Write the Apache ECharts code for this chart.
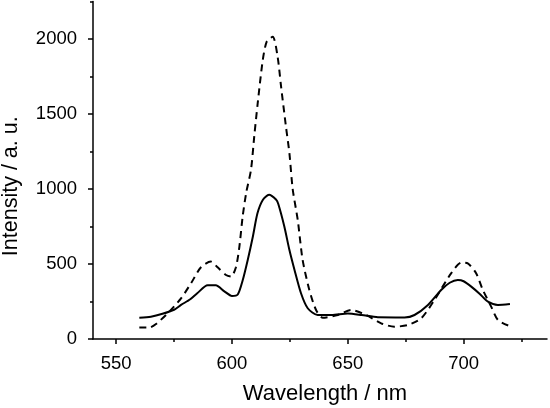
<!DOCTYPE html>
<html>
<head>
<meta charset="utf-8">
<script src="https://cdn.jsdelivr.net/npm/echarts@6/dist/echarts.min.js"></script>
<style>
html,body{margin:0;padding:0;background:#fff;}
#chart{width:550px;height:408px;}
</style>
</head>
<body>
<div id="chart"></div>
<script>
// Solid curve
const solidWavelength = [560,565,570,575,578,582,585,589.5,593,596.7,600,602.5,604.6,606.8,609,611,613.3,616,619,620,622.6,624.8,627,629.8,632.7,637,643,650,656,663,674.5,678.8,684.6,690.3,694,697.5,700,703.3,707,710.5,714.8,720];
const solidIntensity  = [142,149,168,195,227,265,305,358,358,318,287,297,390,527,682,838,927,962,930,900,750,593,460,305,205,160,160,170,160,145,144,160,227,327,375,393,385,349,300,249,227,233];
// Dashed curve
const dashedWavelength = [560,564.3,567.2,572.2,578,582.3,586.6,590.9,593.8,597.4,599.6,601.7,603.2,604.6,606.2,608.2,609.6,611.1,613.3,615,617.6,619.7,621.2,623.3,624.8,626.2,628.4,630.5,633.4,636.3,639.2,645.7,651.4,657.9,664.4,670.1,675.9,681.7,687.4,694.6,699,701.8,705.4,708.3,711.9,714.8,720];
const dashedIntensity  = [76,76,100,171,271,371,478,516,478,427,416,478,616,816,980,1127,1349,1571,1860,1982,2015,1882,1682,1416,1238,1000,793,527,327,193,142,160,193,160,104,82,93,138,260,438,509,504,438,327,216,127,85];
// Axes
const xMajorTicks = [550,600,650,700];
const xMinorTicks = [575,625,675,725];
const yMajorTicks = [0,500,1000,1500,2000];
const yMinorTicks = [250,750,1250,1750,2250];
const xName = 'Wavelength / nm';
const yName = 'Intensity / a. u.';

const FONT = 'Liberation Sans, Arial, Helvetica, sans-serif';
const pair = (xs, ys) => xs.map((x, i) => [x, ys[i]]);

const chart = echarts.init(document.getElementById('chart'), null, {renderer: 'canvas'});
const axisLine = {show: true, lineStyle: {color: '#000', width: 1.5}};
const plain = v => String(v);
chart.setOption({
  animation: false,
  backgroundColor: '#fff',
  grid: {left: 93, right: 3, top: 1.5, bottom: 69, containLabel: false, outerBoundsMode: 'none'},
  xAxis: [
    {
      type: 'value', min: 540, max: 736,
      axisLine: axisLine,
      splitLine: {show: false},
      axisTick: {show: true, inside: false, length: 5, customValues: xMajorTicks, lineStyle: {color: '#000', width: 1.5}},
      axisLabel: {show: true, customValues: xMajorTicks, formatter: plain, margin: 15, color: '#000', fontSize: 18.5, fontFamily: FONT},
      name: xName, nameLocation: 'middle', nameGap: 44,
      nameTextStyle: {color: '#000', fontSize: 22, fontFamily: FONT, padding: [0, 0, 0, 10]}
    },
    {
      type: 'value', min: 540, max: 736, position: 'bottom',
      axisLine: {show: false},
      splitLine: {show: false},
      axisTick: {show: true, length: 3, customValues: xMinorTicks, lineStyle: {color: '#000', width: 1.5}},
      axisLabel: {show: false}
    }
  ],
  yAxis: [
    {
      type: 'value', min: 0, max: 2250,
      axisLine: axisLine,
      splitLine: {show: false},
      axisTick: {show: true, length: 5, customValues: yMajorTicks, lineStyle: {color: '#000', width: 1.5}},
      axisLabel: {show: true, customValues: yMajorTicks, formatter: plain, margin: 16, color: '#000', fontSize: 18.5, fontFamily: FONT},
      name: yName, nameLocation: 'middle', nameGap: 71, nameRotate: 90,
      nameTextStyle: {color: '#000', fontSize: 21.5, fontFamily: FONT, padding: [0, 32, 0, 0]}
    },
    {
      type: 'value', min: 0, max: 2250, position: 'left',
      axisLine: {show: false},
      splitLine: {show: false},
      axisTick: {show: true, length: 3, customValues: yMinorTicks, lineStyle: {color: '#000', width: 1.5}},
      axisLabel: {show: false}
    }
  ],
  series: [
    {
      type: 'line', xAxisIndex: 0, yAxisIndex: 0,
      data: pair(dashedWavelength, dashedIntensity),
      showSymbol: false, smooth: 0.25,
      lineStyle: {color: '#000', width: 2, type: [7, 5]}
    },
    {
      type: 'line', xAxisIndex: 0, yAxisIndex: 0,
      data: pair(solidWavelength, solidIntensity),
      showSymbol: false, smooth: 0.25,
      lineStyle: {color: '#000', width: 2, type: 'solid'}
    }
  ]
});
</script>
</body>
</html>
